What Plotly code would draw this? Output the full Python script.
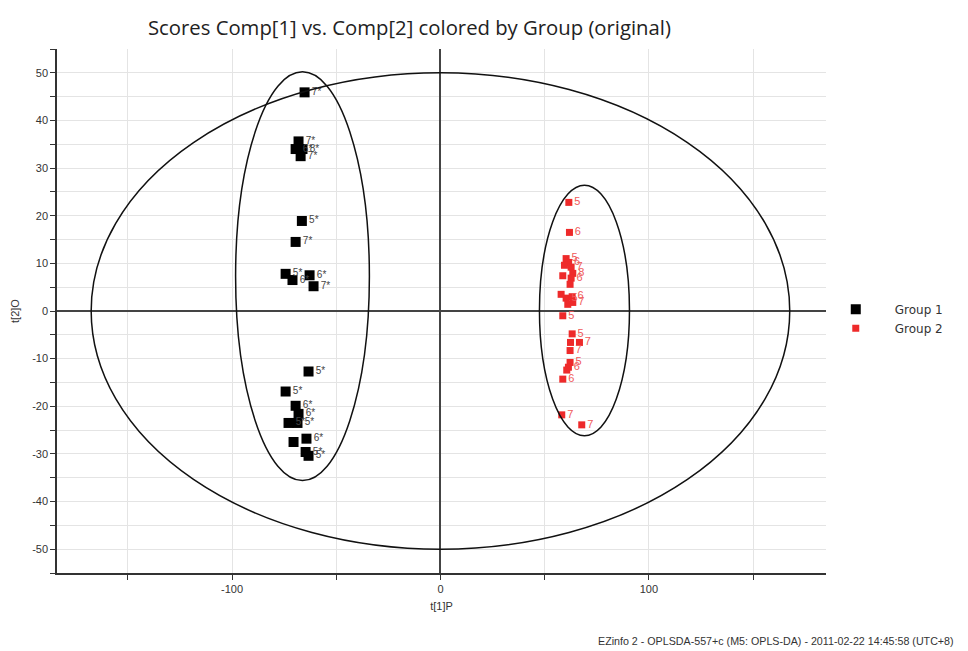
import plotly.graph_objects as go

# Group 1 scores (t[1]P, t[2]O) with sample labels
g1_x = [-65.2, -68.1, -69.5, -66.2, -67.1, -66.5, -69.5, -74.3, -71.0, -62.8, -60.9,
        -63.3, -74.3, -69.5, -68.1, -72.9, -68.6, -70.5, -64.3, -64.7, -63.3]
g1_y = [45.9, 35.6, 34.0, 34.0, 32.5, 18.9, 14.5, 7.8, 6.5, 7.5, 5.2,
        -12.7, -16.9, -19.9, -21.6, -23.5, -23.5, -27.5, -26.8, -29.6, -30.4]
g1_lab = ["7*", "7*", "6*", "8*", "7*", "5*", "7*", "5*", "6*", "6*", "7*",
          "5*", "5*", "6*", "6*", "5*", "5*", "", "6*", "5*", "5*"]

# Group 2 scores
g2_x = [61.6, 61.9, 60.3, 61.5, 59.5, 62.7, 58.7, 63.5, 62.7, 62.2, 57.9, 60.3, 63.2,
        63.5, 61.1, 58.7, 63.2, 62.4, 66.7, 62.2, 62.2, 61.4, 60.6, 58.7, 58.2, 67.8]
g2_y = [22.8, 16.5, 11.0, 10.2, 9.6, 9.2, 7.4, 7.9, 6.9, 5.6, 3.5, 2.7, 3.0,
        1.8, 1.4, -1.0, -4.8, -6.6, -6.6, -8.3, -10.8, -11.8, -12.4, -14.3, -21.8, -23.9]
g2_lab = ["5", "6", "5", "6", "", "7", "", "8", "6", "", "", "5", "6",
          "7", "", "5", "5", "", "7", "7", "5", "6", "", "6", "7", "7"]

# Ellipses: (centre x, centre y, semi-axis x, semi-axis y)
hotelling = (0.0, 0.0, 167.6, 50.0)
g1_ellipse = (-66.2, 7.3, 32.1, 42.9)
g2_ellipse = (69.1, 0.1, 21.6, 26.3)

x_range = [-184, 185]
y_range = [-55, 55]
x_ticks = [-100, 0, 100]
y_ticks = [-50, -40, -30, -20, -10, 0, 10, 20, 30, 40, 50]

fig = go.Figure()

fig.add_trace(go.Scatter(
    x=g1_x, y=g1_y, text=g1_lab, mode="markers+text", name="Group 1",
    marker=dict(symbol="square", size=10, color="#000000"),
    textposition="middle right",
    textfont=dict(family="Liberation Sans", size=10, color="#444444"),
    cliponaxis=False,
))
fig.add_trace(go.Scatter(
    x=g2_x, y=g2_y, text=g2_lab, mode="markers+text", name="Group 2",
    marker=dict(symbol="square", size=7, color="#ee2a2a"),
    textposition="middle right",
    textfont=dict(family="Liberation Sans", size=11, color="#f05a5a"),
    cliponaxis=False,
))

for cx, cy, ax, ay in (hotelling, g1_ellipse, g2_ellipse):
    fig.add_shape(type="circle", xref="x", yref="y",
                  x0=cx - ax, x1=cx + ax, y0=cy - ay, y1=cy + ay,
                  line=dict(color="#111111", width=1.5), layer="above")

axis_font = dict(family="Liberation Sans", size=11, color="#333333")

fig.update_xaxes(
    range=x_range, tickvals=x_ticks, ticktext=[str(v) for v in x_ticks],
    ticks="outside", ticklen=5, tickcolor="#333333", tickfont=axis_font,
    showgrid=True, gridcolor="#e4e4e4", gridwidth=1,
    minor=dict(dtick=50, tick0=0, ticks="outside", ticklen=5, tickcolor="#333333",
               showgrid=True, gridcolor="#e4e4e4"),
    zeroline=True, zerolinecolor="#444444", zerolinewidth=1.5,
    showline=True, linecolor="#333333", linewidth=1.5,
    title=dict(text="t[1]P", font=axis_font, standoff=8),
)
fig.update_yaxes(
    range=y_range, tickvals=y_ticks, ticktext=[str(v) for v in y_ticks],
    ticks="outside", ticklen=5, tickcolor="#333333", tickfont=axis_font,
    showgrid=True, gridcolor="#e4e4e4", gridwidth=1,
    minor=dict(dtick=5, tick0=0, ticks="outside", ticklen=5, tickcolor="#333333",
               showgrid=True, gridcolor="#e4e4e4"),
    zeroline=True, zerolinecolor="#444444", zerolinewidth=1.5,
    showline=True, linecolor="#333333", linewidth=1.5,
    title=dict(text="t[2]O", font=axis_font, standoff=10),
)

fig.add_annotation(
    text="EZinfo 2 - OPLSDA-557+c (M5: OPLS-DA) - 2011-02-22 14:45:58 (UTC+8)",
    xref="paper", yref="paper", x=1.1696, y=-0.129, xanchor="right", yanchor="middle",
    showarrow=False, font=dict(family="Liberation Sans", size=10.7, color="#333333"),
)

fig.update_layout(
    width=968, height=651,
    margin=dict(l=57, r=141.6, t=48.7, b=77.6, autoexpand=False),
    paper_bgcolor="white", plot_bgcolor="white",
    title=dict(text="Scores Comp[1] vs. Comp[2] colored by Group (original)",
               x=0.423, xanchor="center", y=0.957, yanchor="middle",
               font=dict(family="Open Sans", size=20.3, color="#222222")),
    showlegend=True,
    legend=dict(x=0.988, xanchor="left", y=0.485, yanchor="middle",
                itemwidth=68, font=dict(family="DejaVu Sans", size=12, color="#333333"),
                bgcolor="rgba(0,0,0,0)"),
)

fig.write_html("out.html")
